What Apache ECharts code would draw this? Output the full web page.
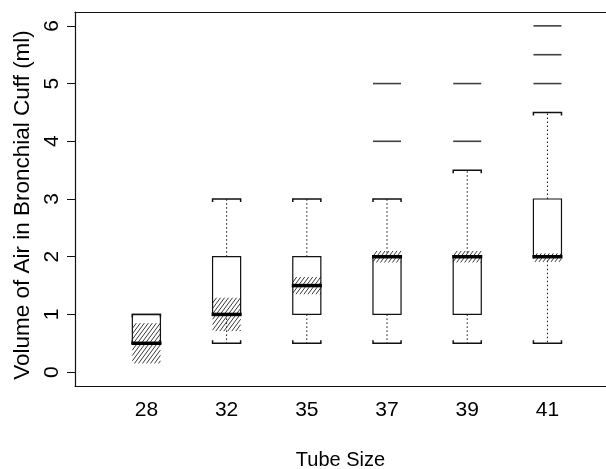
<!DOCTYPE html>
<html>
<head>
<meta charset="utf-8">
<script src="https://cdn.jsdelivr.net/npm/echarts@6/dist/echarts.min.js"></script>
<style>
  html, body { margin: 0; padding: 0; background: #fff; }
  #chart { width: 606px; height: 469px; }
</style>
</head>
<body>
<div id="chart"></div>
<script>
// tube sizes and box statistics (ml)
const tubeSizes = ["28", "32", "35", "37", "39", "41"];
const whiskerLow = [0.5, 0.5, 0.5, 0.5, 0.5, 0.5];
const lowerHinge = [0.5, 1, 1, 1, 1, 2];
const medians = [0.5, 1, 1.5, 2, 2, 2];
const upperHinge = [1, 2, 2, 2, 2, 3];
const whiskerHigh = [1, 3, 3, 3, 3.5, 4.5];
const notchLow = [0.15, 0.71, 1.35, 1.9, 1.9, 1.91];
const notchHigh = [0.85, 1.29, 1.65, 2.1, 2.1, 2.06];
const outliers = [[], [], [], [4, 5], [4, 5], [5, 5.5, 6]];
const yTicks = [0, 1, 2, 3, 4, 5, 6];

const ink = "#111";
const font = "Liberation Sans";

const boxData = tubeSizes.map((t, i) => [
    i + 1, whiskerLow[i], lowerHinge[i], medians[i], upperHinge[i], whiskerHigh[i], notchLow[i], notchHigh[i]
]);

const outlierData = [];
outliers.forEach((vals, i) => vals.forEach((v) => outlierData.push([i + 1, v])));

// diagonal hatch lines clipped to a pixel rectangle
function hatchLines(x0, x1, y0, y1, slope, step) {
    const lines = [];
    const cMin = y0 + slope * x0;
    const cMax = y1 + slope * x1;
    for (let c = cMin; c <= cMax; c += step * slope) {
        const xs = Math.max(x0, (c - y1) / slope);
        const xe = Math.min(x1, (c - y0) / slope);
        if (xe - xs > 0.2) {
            lines.push({
                type: "line",
                shape: { x1: xs, y1: c - slope * xs, x2: xe, y2: c - slope * xe },
                style: { stroke: "#222", lineWidth: 0.9 }
            });
        }
    }
    return lines;
}

function renderBox(params, api) {
    const x = api.value(0);
    const half = api.size([0.35, 0])[0] / 2;
    const lowW = api.coord([x, api.value(1)]);
    const q1 = api.coord([x, api.value(2)]);
    const med = api.coord([x, api.value(3)]);
    const q3 = api.coord([x, api.value(4)]);
    const highW = api.coord([x, api.value(5)]);
    const nLow = api.coord([x, api.value(6)]);
    const nHigh = api.coord([x, api.value(7)]);
    const cx = med[0];
    const left = cx - half, right = cx + half;
    const dotted = { stroke: ink, lineWidth: 1, lineDash: [1.5, 2.5] };
    const capTick = 3;

    const children = [];
    // notch hatching
    hatchLines(left, right, nHigh[1], nLow[1], 1.35, 4).forEach((l) => children.push(l));
    // whiskers
    children.push({ type: "line", shape: { x1: cx, y1: q3[1], x2: cx, y2: highW[1] }, style: dotted });
    children.push({ type: "line", shape: { x1: cx, y1: q1[1], x2: cx, y2: lowW[1] }, style: dotted });
    // staples with small end ticks
    children.push({
        type: "polyline",
        shape: { points: [[left, highW[1] + capTick], [left, highW[1]], [right, highW[1]], [right, highW[1] + capTick]] },
        style: { stroke: ink, lineWidth: 1.5, fill: null }
    });
    children.push({
        type: "polyline",
        shape: { points: [[left, lowW[1] - capTick], [left, lowW[1]], [right, lowW[1]], [right, lowW[1] - capTick]] },
        style: { stroke: ink, lineWidth: 1.5, fill: null }
    });
    // box
    children.push({
        type: "rect",
        shape: { x: left, y: q3[1], width: right - left, height: q1[1] - q3[1] },
        style: { stroke: ink, lineWidth: 1.2, fill: null }
    });
    // median
    children.push({ type: "line", shape: { x1: left - 1, y1: med[1], x2: right + 1, y2: med[1] }, style: { stroke: "#000", lineWidth: 3.5 } });
    return { type: "group", children };
}

const chart = echarts.init(document.getElementById("chart"), null, { renderer: "canvas" });
chart.setOption({
    backgroundColor: "#fff",
    animation: false,
    grid: { left: 75, right: 0, top: 12, bottom: 83, outerBoundsMode: "none", containLabel: false },
    xAxis: [
        {
            type: "value",
            min: 0.11,
            max: 6.73,
            name: "Tube Size",
            nameLocation: "middle",
            nameGap: 64,
            nameTextStyle: { fontFamily: font, fontSize: 20, color: "#000" },
            axisLine: { show: true, onZero: false, lineStyle: { color: ink, width: 1.2 } },
            axisTick: { show: false },
            splitLine: { show: false },
            axisLabel: {
                customValues: [1, 2, 3, 4, 5, 6],
                formatter: (v) => tubeSizes[Math.round(v) - 1],
                fontFamily: font,
                fontSize: 21,
                color: "#000",
                margin: 14
            }
        },
        {
            type: "value",
            position: "top",
            min: 0.11,
            max: 6.73,
            axisLine: { show: true, onZero: false, lineStyle: { color: ink, width: 1.2 } },
            axisTick: { show: false },
            axisLabel: { show: false },
            splitLine: { show: false }
        }
    ],
    yAxis: {
        type: "value",
        min: -0.24,
        max: 6.24,
        name: "Volume of Air in Bronchial Cuff (ml)",
        nameLocation: "middle",
        nameRotate: 90,
        nameGap: 40,
        nameTextStyle: { fontFamily: font, fontSize: 22.5, color: "#000", padding: [0, 12, 0, 0] },
        axisLine: { show: true, onZero: false, lineStyle: { color: ink, width: 1.2 } },
        splitLine: { show: false },
        axisTick: { show: true, customValues: yTicks, length: 8, lineStyle: { color: ink, width: 1 } },
        axisLabel: {
            customValues: yTicks,
            rotate: 90,
            fontFamily: font,
            fontSize: 21,
            color: "#000",
            margin: 12
        }
    },
    series: [
        {
            type: "custom",
            data: boxData,
            encode: { x: 0, y: [1, 2, 3, 4, 5, 6, 7] },
            renderItem: renderBox,
            clip: false
        },
        {
            type: "scatter",
            data: outlierData,
            symbol: "rect",
            symbolSize: [28, 1.6],
            itemStyle: { color: ink }
        }
    ]
});
</script>
</body>
</html>
